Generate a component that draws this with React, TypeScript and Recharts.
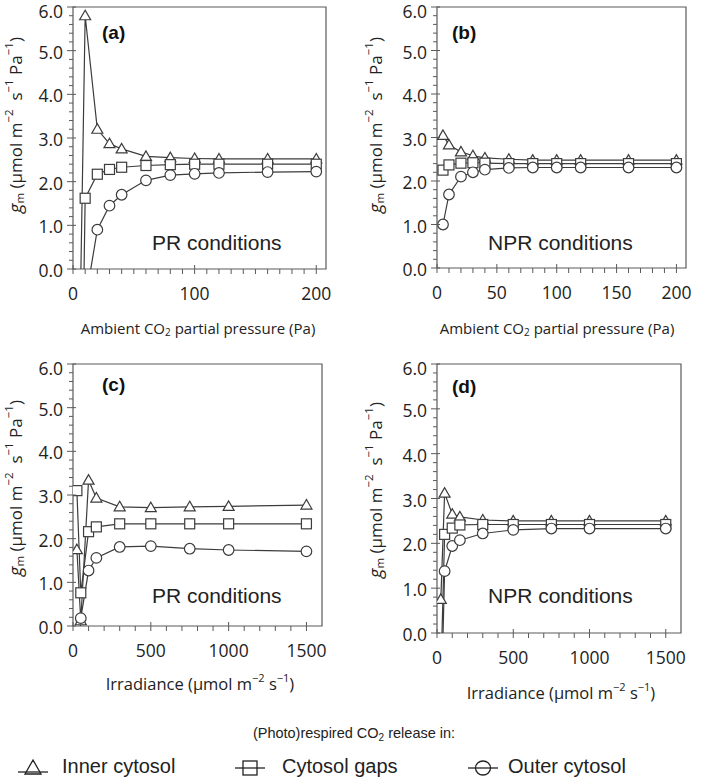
import React from 'react';
import { LineChart, Line, XAxis, YAxis, ReferenceArea } from 'recharts';

// ---------- data ----------
const seriesKeys = ['inner', 'gaps', 'outer'];
const seriesNames = ['Inner cytosol', 'Cytosol gaps', 'Outer cytosol'];
const seriesShapes = ['triangle', 'square', 'circle'];

// Ambient CO2 partial pressure (Pa)
const co2X = [5, 10, 20, 30, 40, 60, 80, 100, 120, 160, 200];
// (a) PR conditions
const aInner = [-2.5, 5.8, 3.2, 2.87, 2.75, 2.58, 2.55, 2.53, 2.52, 2.52, 2.52];
const aGaps = [-7.4, 1.62, 2.17, 2.28, 2.33, 2.37, 2.39, 2.4, 2.4, 2.4, 2.4];
const aOuter = [null, -0.77, 0.9, 1.45, 1.7, 2.03, 2.15, 2.18, 2.2, 2.22, 2.23];
// (b) NPR conditions
const bInner = [3.05, 2.83, 2.67, 2.58, 2.53, 2.5, 2.48, 2.48, 2.48, 2.48, 2.48];
const bGaps = [2.25, 2.37, 2.41, 2.42, 2.41, 2.4, 2.4, 2.4, 2.4, 2.4, 2.4];
const bOuter = [1.0, 1.69, 2.1, 2.2, 2.26, 2.3, 2.31, 2.31, 2.31, 2.31, 2.31];

// Irradiance (µmol m-2 s-1)
const irrX = [25, 50, 100, 150, 300, 500, 750, 1000, 1500];
// (c) PR conditions
const cInner = [1.75, 0.12, 3.34, 2.93, 2.73, 2.71, 2.73, 2.74, 2.77];
const cGaps = [3.1, 0.76, 2.16, 2.27, 2.34, 2.34, 2.34, 2.34, 2.34];
const cOuter = [-2.0, 0.18, 1.27, 1.56, 1.81, 1.83, 1.77, 1.74, 1.71];
// (d) NPR conditions
const dInner = [0.75, 3.12, 2.65, 2.59, 2.52, 2.5, 2.5, 2.5, 2.5];
const dGaps = [-1.0, 2.2, 2.34, 2.41, 2.42, 2.42, 2.42, 2.42, 2.42];
const dOuter = [-2.0, 1.38, 1.94, 2.07, 2.22, 2.3, 2.33, 2.33, 2.33];

// ticks
const yMajor = [0, 1, 2, 3, 4, 5, 6];
const co2Major = [0, 100, 200];
const co2MajorB = [0, 50, 100, 150, 200];
const irrMajor = [0, 500, 1000, 1500];

const range = (start: number, end: number, step: number) => {
  const out: number[] = [];
  for (let v = start; v <= end + 1e-9; v += step) out.push(Math.round(v * 1000) / 1000);
  return out;
};
const yAll = range(0, 6, 0.2);
const co2All = range(0, 200, 10);
const irrAll = range(0, 1500, 100);

const build = (xs: number[], s1: any[], s2: any[], s3: any[]) =>
  xs.map((x, i) => ({ x, inner: s1[i], gaps: s2[i], outer: s3[i] }));

const AXIS = '#5a5a5a';
const INK = '#3c3c3c';
const TICK_FONT = "'Open Sans', 'DejaVu Sans', sans-serif";
const TITLE_FONT = "'Open Sans', 'DejaVu Sans', sans-serif";
const ARIAL = "'Liberation Sans', Arial, sans-serif";
const NARROW = "'Liberation Sans Narrow', 'Liberation Sans', Arial, sans-serif";

// ---------- marks ----------
function Marker({ shape, cx, cy }: { shape: string; cx: number; cy: number }) {
  const common = { fill: '#fff', stroke: INK, strokeWidth: 1.2 };
  if (shape === 'triangle') {
    return <polygon points={`${cx},${cy - 5.5} ${cx - 5.5},${cy + 4} ${cx + 5.5},${cy + 4}`} {...common} />;
  }
  if (shape === 'square') {
    return <rect x={cx - 5} y={cy - 5} width={10} height={10} {...common} />;
  }
  return <circle cx={cx} cy={cy} r={5.3} {...common} />;
}

const makeDot = (shape: string) => (p: any) => {
  const { cx, cy, index, value } = p;
  if (cx == null || cy == null || value == null || isNaN(cy)) return <g key={`d-${index}`} />;
  return (
    <g key={`d-${index}`}>
      <Marker shape={shape} cx={cx} cy={cy} />
    </g>
  );
};

// ---------- ticks ----------
const makeXTick = (majors: number[]) => (p: any) => {
  const { x, y, payload, index } = p;
  const isMajor = majors.includes(payload.value);
  return (
    <g key={`xt-${index}`}>
      <line x1={x} x2={x} y1={isMajor ? y - 4 : y} y2={y + 5} stroke={AXIS} strokeWidth={1} />
      {isMajor && (
        <text x={x} y={y + 24} textAnchor="middle" dominantBaseline="central" fontFamily={TICK_FONT} fontSize={17.5} fill="#222">
          {payload.value}
        </text>
      )}
    </g>
  );
};

const YTick = (p: any) => {
  const { x, y, payload, index } = p;
  const isMajor = yMajor.some((m) => Math.abs(m - payload.value) < 1e-6);
  const labelY = payload.value > 5.9 ? y + 4 : y + 1;
  return (
    <g key={`yt-${index}`}>
      <line x1={isMajor ? x - 6 : x - 4} x2={isMajor ? x + 3 : x} y1={y} y2={y} stroke={AXIS} strokeWidth={1} />
      {isMajor && (
        <text x={x - 10} y={labelY} textAnchor="end" dominantBaseline="central" fontFamily={TICK_FONT} fontSize={17.5} fill="#222">
          {payload.value.toFixed(1)}
        </text>
      )}
    </g>
  );
};

// ---------- panel ----------
type PanelProps = {
  left: number;
  top: number;
  width: number;
  height: number;
  marginTop: number;
  yAxisWidth: number;
  marginRight: number;
  xAxisHeight: number;
  data: any[];
  xMax: number;
  xTicks: number[];
  xMajor: number[];
};

function Panel(props: PanelProps) {
  const { left, top, width, height, marginTop, yAxisWidth, marginRight, xAxisHeight, data, xMax, xTicks, xMajor } = props;
  return (
    <div style={{ position: 'absolute', left, top, width, height }}>
      <LineChart width={width} height={height} data={data} margin={{ top: marginTop, right: marginRight, bottom: 0, left: 0 }}>
        <XAxis
          dataKey="x"
          type="number"
          domain={[0, xMax]}
          allowDataOverflow
          ticks={xTicks}
          interval={0}
          tickSize={0}
          tickMargin={0}
          axisLine={false}
          tickLine={false}
          height={xAxisHeight}
          tick={makeXTick(xMajor)}
        />
        <YAxis
          type="number"
          domain={[0, 6]}
          allowDataOverflow
          ticks={yAll}
          interval={0}
          tickSize={0}
          tickMargin={0}
          axisLine={false}
          tickLine={false}
          width={yAxisWidth}
          tick={YTick}
        />
        <ReferenceArea x1={0} x2={xMax} y1={0} y2={6} fill="none" stroke={AXIS} strokeWidth={1.2} />
        {seriesKeys.map((k, i) => (
          <Line
            key={k}
            dataKey={k}
            name={seriesNames[i]}
            type="linear"
            stroke={INK}
            strokeWidth={1.2}
            dot={makeDot(seriesShapes[i])}
            activeDot={false}
            isAnimationActive={false}
          />
        ))}
      </LineChart>
    </div>
  );
}

// ---------- text helpers ----------
function YTitle({ x, y }: { x: number; y: number }) {
  return (
    <text
      transform={`translate(${x},${y}) rotate(-90)`}
      textAnchor="middle"
      dominantBaseline="central"
      fontFamily={TITLE_FONT}
      fontSize={17}
      fill="#222"
      style={{ whiteSpace: 'pre' }}
    >
      <tspan fontStyle="italic" fontSize={18}>g</tspan>
      <tspan fontSize={11.5} dy={4}>m</tspan>
      <tspan dy={-4}>{' (µmol m'}</tspan>
      <tspan fontSize={11.5} dy={-7}>−2</tspan>
      <tspan dy={7}>{'  s'}</tspan>
      <tspan fontSize={11.5} dy={-7}>−1</tspan>
      <tspan dy={7}>{' Pa'}</tspan>
      <tspan fontSize={11.5} dy={-7}>−1</tspan>
      <tspan dy={7}>)</tspan>
    </text>
  );
}

function Co2Title({ x, y }: { x: number; y: number }) {
  return (
    <text x={x} y={y} textAnchor="middle" dominantBaseline="central" fontFamily={TITLE_FONT} fontSize={15} fill="#222" style={{ whiteSpace: 'pre' }}>
      <tspan>Ambient CO</tspan>
      <tspan fontSize={10} dy={4}>2</tspan>
      <tspan dy={-4}>{' partial pressure (Pa)'}</tspan>
    </text>
  );
}

function IrrTitle({ x, y }: { x: number; y: number }) {
  return (
    <text x={x} y={y} textAnchor="middle" dominantBaseline="central" fontFamily={TITLE_FONT} fontSize={16.5} fill="#222" style={{ whiteSpace: 'pre' }}>
      <tspan>{'Irradiance (µmol m'}</tspan>
      <tspan fontSize={11} dy={-6}>−2</tspan>
      <tspan dy={6}>{' s'}</tspan>
      <tspan fontSize={11} dy={-6}>−1</tspan>
      <tspan dy={6}>)</tspan>
    </text>
  );
}

function LegendMarker({ shape, x, y }: { shape: string; x: number; y: number }) {
  const lineY = shape === 'triangle' ? y + 4 : y;
  return (
    <g>
      <line x1={x - 15} x2={x + 15} y1={lineY} y2={lineY} stroke="#222" strokeWidth={1.3} />
      {shape === 'triangle' && (
        <polygon points={`${x},${y - 8} ${x - 8},${y + 6} ${x + 8},${y + 6}`} fill="none" stroke="#222" strokeWidth={1.3} />
      )}
      {shape === 'square' && <rect x={x - 7} y={y - 7} width={14} height={14} fill="none" stroke="#222" strokeWidth={1.3} />}
      {shape === 'circle' && <ellipse cx={x} cy={y} rx={7.5} ry={7} fill="none" stroke="#222" strokeWidth={1.3} />}
    </g>
  );
}

const legendMarkerX = [33, 250, 483];
const legendTextX = [62, 282, 508];

export default function App() {
  return (
    <div style={{ position: 'absolute', left: 0, top: 0, width: 709, height: 782, background: '#fff', overflow: 'hidden' }}>
      <Panel left={0} top={0} width={340} height={340} marginTop={7} yAxisWidth={73} marginRight={14} xAxisHeight={71}
        data={build(co2X, aInner, aGaps, aOuter)} xMax={208} xTicks={co2All} xMajor={co2Major} />
      <Panel left={360} top={0} width={340} height={340} marginTop={7} yAxisWidth={77} marginRight={14} xAxisHeight={72}
        data={build(co2X, bInner, bGaps, bOuter)} xMax={208} xTicks={co2All} xMajor={co2MajorB} />
      <Panel left={0} top={340} width={340} height={357} marginTop={24} yAxisWidth={73} marginRight={18} xAxisHeight={71}
        data={build(irrX, cInner, cGaps, cOuter)} xMax={1600} xTicks={irrAll} xMajor={irrMajor} />
      <Panel left={360} top={340} width={340} height={357} marginTop={24} yAxisWidth={77} marginRight={19} xAxisHeight={64}
        data={build(irrX, dInner, dGaps, dOuter)} xMax={1600} xTicks={irrAll} xMajor={irrMajor} />

      <svg width={709} height={782} style={{ position: 'absolute', left: 0, top: 0, pointerEvents: 'none' }}>
        <YTitle x={15} y={125} />
        <YTitle x={375} y={125} />
        <YTitle x={15} y={488} />
        <YTitle x={375} y={490} />

        <Co2Title x={198} y={328} />
        <Co2Title x={557} y={328} />
        <IrrTitle x={200} y={683} />
        <IrrTitle x={561} y={692} />

        <text x={102} y={32} fontFamily={ARIAL} fontWeight="bold" fontSize={19} dominantBaseline="central" fill="#111">(a)</text>
        <text x={452} y={32} fontFamily={ARIAL} fontWeight="bold" fontSize={19} dominantBaseline="central" fill="#111">(b)</text>
        <text x={102} y={384} fontFamily={ARIAL} fontWeight="bold" fontSize={19} dominantBaseline="central" fill="#111">(c)</text>
        <text x={452} y={386} fontFamily={ARIAL} fontWeight="bold" fontSize={19} dominantBaseline="central" fill="#111">(d)</text>

        <text x={152} y={242} fontFamily={ARIAL} fontSize={21} dominantBaseline="central" fill="#222">PR conditions</text>
        <text x={488} y={242} fontFamily={ARIAL} fontSize={21} dominantBaseline="central" fill="#222">NPR conditions</text>
        <text x={152} y={595} fontFamily={ARIAL} fontSize={21} dominantBaseline="central" fill="#222">PR conditions</text>
        <text x={488} y={595} fontFamily={ARIAL} fontSize={21} dominantBaseline="central" fill="#222">NPR conditions</text>

        <text x={354} y={733} textAnchor="middle" dominantBaseline="central" fontFamily={NARROW} fontSize={14.5} fill="#222" style={{ whiteSpace: 'pre' }}>
          <tspan>(Photo)respired CO</tspan>
          <tspan fontSize={10} dy={4}>2</tspan>
          <tspan dy={-4}>{' release in:'}</tspan>
        </text>
        {seriesNames.map((n, i) => (
          <g key={n}>
            <LegendMarker shape={seriesShapes[i]} x={legendMarkerX[i]} y={768} />
            <text x={legendTextX[i]} y={766} dominantBaseline="central" fontFamily={NARROW} fontSize={20} fill="#222">{n}</text>
          </g>
        ))}
      </svg>
    </div>
  );
}
